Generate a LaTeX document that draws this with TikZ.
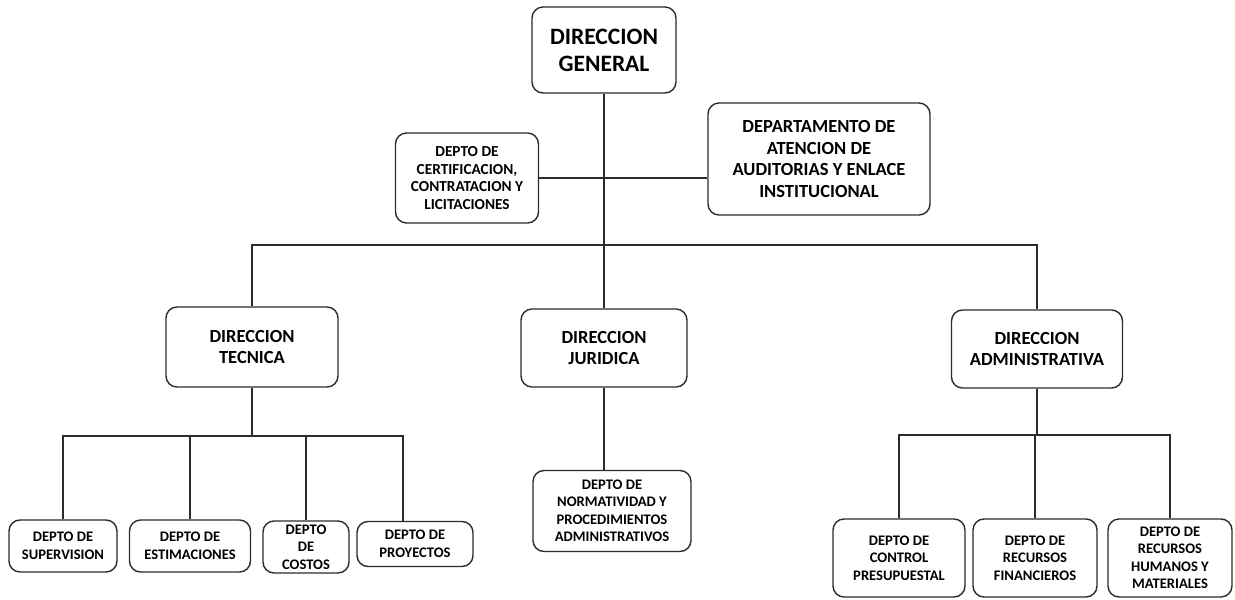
\documentclass[tikz,border=0pt]{standalone}
\usepackage{fontspec}
\setmainfont{Carlito}
\usepackage{tikz}
\usetikzlibrary{positioning}
\definecolor{LineGray}{HTML}{2B2B2B}

\begin{document}
\begin{tikzpicture}[x=1pt, y=-1pt, font=\bfseries,
    box/.style={draw=LineGray, line width=1.4pt, rounded corners=11pt, align=center, inner sep=0pt},
    link/.style={draw=LineGray, line width=1.1pt},
    big/.style={font=\fontsize{23.5}{27}\selectfont\bfseries},
    mid/.style={font=\fontsize{18.5}{21.5}\selectfont\bfseries},
    small/.style={font=\fontsize{15.3}{17.5}\selectfont\bfseries},
    tiny/.style={font=\fontsize{14.6}{17.5}\selectfont\bfseries}]
    \useasboundingbox (0,0) rectangle (1235,600);
    % Top
    \node[box, big, minimum width=144, minimum height=86] (general) at (604,50) {DIRECCION\\GENERAL};
    \node[box, small, minimum width=143, minimum height=90] (certif) at (467,178) {DEPTO DE\\CERTIFICACION,\\CONTRATACION Y\\LICITACIONES};
    \node[box, mid, minimum width=222, minimum height=112] (auditorias) at (819,159) {DEPARTAMENTO DE\\ATENCION DE\\AUDITORIAS Y ENLACE\\INSTITUCIONAL};
    % Direcciones
    \node[box, mid, minimum width=172, minimum height=80] (tecnica) at (252,347) {DIRECCION\\TECNICA};
    \node[box, mid, minimum width=166, minimum height=78] (juridica) at (604,348) {DIRECCION\\JURIDICA};
    \node[box, mid, minimum width=171, minimum height=78] (administrativa) at (1037,349) {DIRECCION\\ADMINISTRATIVA};
    % Departamentos
    \node[box, tiny, minimum width=108, minimum height=52] (supervision) at (63,546) {DEPTO DE\\SUPERVISION};
    \node[box, tiny, minimum width=121, minimum height=52] (estimaciones) at (190,546) {DEPTO DE\\ESTIMACIONES};
    \node[box, tiny, minimum width=86, minimum height=52] (costos) at (306,547) {DEPTO\\DE\\COSTOS};
    \node[box, tiny, minimum width=116, minimum height=45] (proyectos) at (415,544) {DEPTO DE\\PROYECTOS};
    \node[box, tiny, minimum width=158, minimum height=81] (normatividad) at (612,511) {DEPTO DE\\NORMATIVIDAD Y\\PROCEDIMIENTOS\\ADMINISTRATIVOS};
    \node[box, tiny, minimum width=132, minimum height=78] (control) at (899,558) {DEPTO DE\\CONTROL\\PRESUPUESTAL};
    \node[box, tiny, minimum width=124, minimum height=78] (financieros) at (1035,558) {DEPTO DE\\RECURSOS\\FINANCIEROS};
    \node[box, tiny, minimum width=124, minimum height=78] (humanos) at (1170,558) {DEPTO DE\\RECURSOS\\HUMANOS Y\\MATERIALES};

    \coordinate (bus) at (0,245);
    \coordinate (tbus) at (0,436);
    \coordinate (abus) at (0,435);

    % Lines
    \draw[link] (general) -- (juridica);
    \draw[link] (certif) -- (certif -| auditorias.west);
    \draw[link] (tecnica.north) |- (administrativa.north |- bus) -- (administrativa.north);
    \draw[link] (juridica.south) -- (juridica.south |- normatividad.north);
    \draw[link] (tecnica.south) -- (tecnica.south |- tbus);
    \draw[link] (supervision.north) |- ([xshift=-12pt]proyectos.north |- tbus) -- ([xshift=-12pt]proyectos.north);
    \foreach \d in {estimaciones, costos}
        \draw[link] (\d.north) -- (\d.north |- tbus);
    \draw[link] (administrativa.south) -- (administrativa.south |- abus);
    \draw[link] (control.north) |- (humanos.north |- abus) -- (humanos.north);
    \draw[link] (financieros.north) -- (financieros.north |- abus);
\end{tikzpicture}
\end{document}
